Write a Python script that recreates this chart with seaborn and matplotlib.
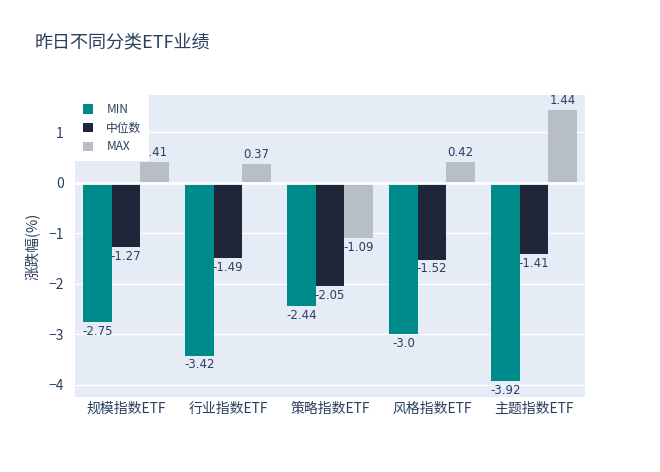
import matplotlib
matplotlib.use("Agg")
import matplotlib.pyplot as plt
import seaborn as sns
import pandas as pd
from matplotlib.patches import Patch

categories = ["规模指数ETF", "行业指数ETF", "策略指数ETF", "风格指数ETF", "主题指数ETF"]
series_names = ["MIN", "中位数", "MAX"]
min_vals = [-2.75, -3.42, -2.44, -3.0, -3.92]
median_vals = [-1.27, -1.49, -2.05, -1.52, -1.41]
max_vals = [0.41, 0.37, -1.09, 0.42, 1.44]
colors = ["#008B8B", "#1E2739", "#B8BEC6"]

rows = []
for name, vals in zip(series_names, [min_vals, median_vals, max_vals]):
    for c, v in zip(categories, vals):
        rows.append({"cat": c, "series": name, "val": v})
df = pd.DataFrame(rows)

sns.set_theme(style="darkgrid")
plt.rcParams['font.family'] = ['Noto Sans CJK SC', 'DejaVu Sans']
plt.rcParams['axes.unicode_minus'] = False

fig = plt.figure(figsize=(6.6, 4.72), dpi=100)
ax = fig.add_axes([75/660, 1-397/472, 510/660, 302/472])
ax.set_facecolor("#E5ECF6")
ax.grid(True, axis="y", color="white", linewidth=1)
ax.grid(False, axis="x")

sns.barplot(data=df, x="cat", y="val", hue="series", palette=colors,
            order=categories, hue_order=series_names, width=0.84,
            saturation=1, ax=ax, legend=False, errorbar=None, linewidth=0)

for cont in ax.containers:
    labels = [f"{bar.get_height()}" for bar in cont]
    ax.bar_label(cont, labels=labels, padding=2, fontsize=8.5, color="#2a3f5f",
                 family=['DejaVu Sans'])

ax.axhline(0, color="white", linewidth=2, zorder=1)
ax.set_ylim(-4.24, 1.74)
ax.set_xlim(-0.5, 4.5)
ax.set_yticks([-4, -3, -2, -1, 0, 1])
ax.set_yticklabels(["−4", "−3", "−2", "−1", "0", "1"])
ax.tick_params(axis="both", length=0, colors="#2a3f5f", labelsize=10)
ax.tick_params(axis="y", pad=8)
for s in ax.spines.values():
    s.set_visible(False)
ax.set_xlabel("")
ax.set_ylabel("涨跌幅(%)", fontsize=10.5, color="#2a3f5f", labelpad=6)

handles = [Patch(facecolor=c, edgecolor="none") for c in colors]
leg = ax.legend(handles, series_names, loc="upper left", bbox_to_anchor=(0.0, 1.0),
                frameon=True, fontsize=8.5, handlelength=0.9, handleheight=0.9,
                borderaxespad=0, labelspacing=0.5, handletextpad=1.1,
                borderpad=0.65, fancybox=False)
leg.get_frame().set_facecolor("white")
leg.get_frame().set_edgecolor("white")
leg.get_frame().set_alpha(1)
leg.get_frame().set_linewidth(0)
for t in leg.get_texts():
    t.set_color("#2a3f5f")

fig.text(35/660, 1-42/472, "昨日不同分类ETF业绩", fontsize=13, color="#2a3f5f", va="center")

fig.savefig("out.png", dpi=100)
